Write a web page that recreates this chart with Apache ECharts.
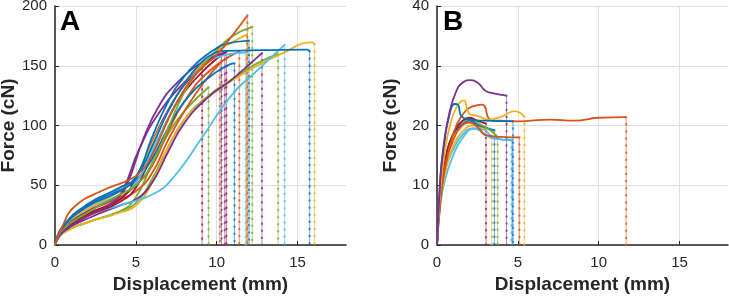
<!DOCTYPE html>
<html>
<head>
<meta charset="utf-8">
<script src="https://cdn.jsdelivr.net/npm/echarts@6/dist/echarts.min.js"></script>
<style>
  html, body { margin: 0; padding: 0; background: #fff; }
  #chart { width: 729px; height: 297px; }
</style>
</head>
<body>
<div id="chart"></div>
<script>
// matlab default line colours
var palette = ['#0072BD', '#D95319', '#EDB120', '#7E2F8E', '#77AC30', '#4DBEEE', '#A2142F'];

var xTicks = [0, 5, 10, 15];

// panel A curves, [displacement mm, force cN]
var a1 = [[0,0],[0.5,15],[2,32],[4,45],[5,56],[6,82],[7,112],[8,135],[9,152],[9.8,160],[10.6,162.5],[13,163],[15.6,163.5],[15.75,162]];
var a2 = [[0,0],[0.4,14],[1.2,32],[3,46],[4.5,54],[5.2,60],[6,75],[7,105],[8,130],[9,147],[10,159],[10.9,174],[11.9,192]];
var a3 = [[0,0],[0.5,10],[2,19],[4,27],[5,33],[6,52],[7,82],[8,105],[9.5,124],[11,138],[12.5,150],[14,160],[15.9,169.5],[16.05,168]];
var a4 = [[0,0],[0.5,11],[2,24],[3.5,35],[4.2,46],[5.2,80],[6.5,112],[8,136],[9.5,155],[10.5,161]];
var a5 = [[0,0],[0.5,10],[2,19],[4,28],[5,35],[6,55],[7,82],[8,105],[9.5,125],[11,139],[12.5,152],[13.8,160]];
var a6 = [[0,0],[0.6,12.5],[2,25],[4.1,33.5],[6.2,43.5],[7.45,58.6],[9,88],[10.9,125],[12.5,146],[14.2,167.5]];
var a7 = [[0,0],[0.5,13],[2,26],[4,38],[5,56],[6,86],[7,113],[8,134],[9.1,148]];
var a8 = [[0,0],[0.5,15],[2,33],[4,46],[5,54],[6,72],[7,98],[8,120],[9.5,140],[10.8,151],[11.1,152]];
var a9 = [[0,0],[0.5,14],[2,28],[4,40],[5,50],[6,66],[7,95],[8,120],[9.5,145],[11.4,162]];
var a10 = [[0,0],[0.5,15],[2,30],[4,45],[5,57],[6,85],[7,112],[8,135],[9,150],[10,162],[11,170],[11.85,176]];
var a11 = [[0,0],[0.5,11],[2,22],[4,33],[5,38],[6,52],[7,78],[8,102],[9.5,124],[10.9,138],[12.8,160.5]];
var a12 = [[0,0],[0.5,13],[2,27],[4,42],[5,50],[6,68],[7,98],[8,128],[9,148],[10,163],[11,175],[12.2,182.5]];
var a13 = [[0,0],[0.5,14],[2,30],[4,42],[5,52],[6,78],[7,106],[8,130],[9,148],[10,157],[11.8,161]];
var a14 = [[0,0],[0.5,12],[2,24],[4,36],[5,48],[6,76],[7,106],[8,128],[9.5,150],[10.6,162]];
var a15 = [[0,0],[0.5,16],[2,34],[4,48],[5,57],[6,90],[7,120],[8,141],[9,155],[9.8,163],[10.5,168],[12,171]];
var a16 = [[0,0],[0.5,12],[2,25],[4,38],[5,45],[6,60],[7,88],[8,112],[9.2,136],[10.2,152]];
var a17 = [[0,0],[0.5,10],[2,19],[4,28],[5,40],[6,68],[7,93],[8,112],[9.5,132]];
var a18 = [[0,0],[0.5,14],[2,28],[4,42],[4.5,52],[5.5,90],[6.5,118],[7.5,135],[9,152],[10.3,160]];
var curvesA = [a5, a17, a3, a11, a6, a16, a9, a14, a7, a8, a13, a18, a4, a10, a12, a15, a1, a2];
var colorsA = [4, 4, 2, 3, 5, 1, 1, 6, 6, 0, 5, 3, 3, 2, 4, 0, 0, 1];

// panel B curves
var b1 = [[0,0],[0.2,11],[0.4,16.5],[0.7,21],[1.1,23.6],[1.3,23.5],[1.5,21.6],[2,21],[3,20.8],[4.7,20.7]];
var b2 = [[0,0],[0.2,7],[0.5,13],[1,18.5],[1.5,21.5],[2.2,23.2],[2.8,23.5],[3.3,21],[4,20.8],[5,20.7],[7,21],[8.5,20.8],[10,21.3],[11.7,21.4]];
var b3 = [[0,0],[0.2,9],[0.45,15],[0.8,20],[1.2,23],[1.65,24.2],[2,22],[2.5,21.6],[3.2,21],[4,21.5],[4.8,22.4],[5.2,22],[5.4,21.5]];
var b4 = [[0,0],[0.2,11],[0.45,17],[0.76,22],[1.2,25.8],[1.6,27.2],[2.1,27.6],[2.5,27.2],[3,25.8],[3.3,25.5],[4.3,25]];
var b5 = [[0,0],[0.2,8],[0.5,14],[1,18.5],[1.6,20.8],[2,21],[2.8,20],[3.4,19],[3.75,18]];
var b6 = [[0,0],[0.2,7],[0.35,11],[0.6,13.5],[1.1,16.5],[1.6,18.5],[2.2,19.5],[2.8,19.4],[3.5,18],[4.6,17.5]];
var b7 = [[0,0],[0.2,8],[0.5,14],[1,18.5],[1.6,20.8],[2,21.3],[2.5,20.8],[3.03,20.3]];
var b8 = [[0,0],[0.2,8],[0.5,14],[1,18.5],[1.5,20],[2,20.8],[2.6,20],[3.2,19.5],[3.55,19.2]];
var b9 = [[0,0],[0.2,7.5],[0.5,13],[1,17.5],[1.5,19.8],[2,20.5],[2.6,19.5],[3,18.4],[4,18.1],[5.1,18]];
var b10 = [[0,0],[0.2,7],[0.5,12],[1,16.5],[1.6,19],[2.2,20],[2.8,19.6],[3.39,19.2]];
var b11 = [[0,0],[0.2,6.5],[0.5,11],[1,15],[1.6,18],[2.3,19.5],[3,18.5],[3.5,17.8],[4.67,17.6]];
var curvesB = [b11, b6, b10, b8, b5, b7, b9, b2, b3, b1, b4];
var colorsB = [5, 5, 2, 0, 4, 6, 1, 1, 2, 0, 3];

var font = 'Liberation Sans, Arial, Helvetica, sans-serif';
var ink = '#262626';

function makeX(gridIndex) {
    return {
        type: 'value', gridIndex: gridIndex, min: 0, max: 18, interval: 5,
        name: 'Displacement (mm)', nameLocation: 'middle', nameGap: 29,
        nameTextStyle: { fontFamily: font, fontSize: 19, fontWeight: 'bold', color: ink },
        axisLine: { lineStyle: { color: ink, width: 1.5 } },
        axisTick: { inside: true, length: 4, lineStyle: { color: ink } },
        axisLabel: { fontFamily: font, fontSize: 15, color: ink, margin: 10, showMaxLabel: false,
            formatter: function (v) { return xTicks.indexOf(v) >= 0 ? v : ''; } },
        splitLine: { show: true, showMaxLine: false, lineStyle: { color: '#dedede' } }
    };
}
function makeY(gridIndex, max, step) {
    return {
        type: 'value', gridIndex: gridIndex, min: 0, max: max, interval: step,
        name: 'Force (cN)', nameLocation: 'middle', nameGap: 37,
        nameTextStyle: { fontFamily: font, fontSize: 19, fontWeight: 'bold', color: ink },
        axisLine: { show: true, lineStyle: { color: ink, width: 1.5 } },
        axisTick: { show: true, inside: true, length: 4, lineStyle: { color: ink } },
        axisLabel: { fontFamily: font, fontSize: 15, color: ink, margin: 8 },
        splitLine: { show: true, lineStyle: { color: '#dedede' } }
    };
}

var series = [];
function addCurves(curves, colors, idx) {
    curves.forEach(function (pts, i) {
        var c = palette[colors[i]];
        var last = pts[pts.length - 1];
        var drop = [last, [last[0], 0]];
        series.push({ type: 'line', xAxisIndex: idx, yAxisIndex: idx, data: drop, showSymbol: false,
            silent: true, lineStyle: { color: c, width: 1, opacity: 0.55 }, z: 2 });
        series.push({ type: 'line', xAxisIndex: idx, yAxisIndex: idx, data: drop, showSymbol: false,
            silent: true, lineStyle: { color: c, width: 2.4, type: [0.1, 7], cap: 'round', opacity: 0.7 }, z: 2 });
        series.push({ type: 'line', xAxisIndex: idx, yAxisIndex: idx, data: pts, showSymbol: false,
            smooth: 0.5, silent: true,
            lineStyle: { color: c, width: 1.8 }, z: 3 });
    });
}
addCurves(curvesA, colorsA, 0);
addCurves(curvesB, colorsB, 1);

var chart = echarts.init(document.getElementById('chart'), null, { renderer: 'canvas' });
chart.setOption({
    animation: false,
    backgroundColor: '#fff',
    title: [
        { text: 'A', left: 60, top: 8, padding: 0, textStyle: { fontFamily: font, fontSize: 28, fontWeight: 'bold', color: '#000' } },
        { text: 'B', left: 443, top: 8, padding: 0, textStyle: { fontFamily: font, fontSize: 28, fontWeight: 'bold', color: '#000' } }
    ],
    grid: [
        { left: 55, top: 6, width: 291, height: 239, outerBoundsMode: 'none' },
        { left: 437, top: 6, width: 291, height: 239, outerBoundsMode: 'none' }
    ],
    xAxis: [makeX(0), makeX(1)],
    yAxis: [makeY(0, 200, 50), makeY(1, 40, 10)],
    series: series
});
</script>
</body>
</html>
